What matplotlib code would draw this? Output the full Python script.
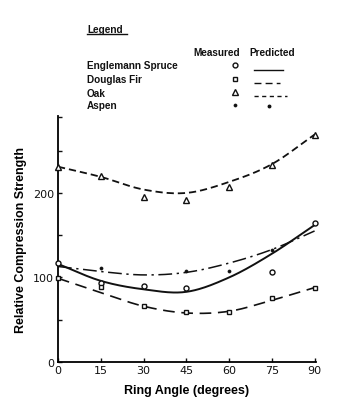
import numpy as np
import matplotlib
matplotlib.use('Agg')
import matplotlib.pyplot as plt
from matplotlib.lines import Line2D

# ---- data ----
angles = [0, 15, 30, 45, 60, 75, 90]

spruce_measured = [117, 93, 90, 88, np.nan, 107, 164]
fir_measured = [99, 89, 66, 59, 59, 76, 88]
oak_measured = [231, 220, 195, 192, 207, 233, 269]
aspen_measured = [np.nan, 111, np.nan, 108, 108, 133, np.nan]

spruce_predicted = [116, 96, 86, 83, 100, 128, 162]
fir_predicted = [99, 82, 66, 58, 60, 73, 88]
oak_predicted = [231, 219, 204, 200, 213, 234, 269]
aspen_predicted = [113, 107, 103, 106, 117, 133, 155]

x_ticks = [0, 15, 30, 45, 60, 75, 90]
y_ticks = [0, 50, 100, 150, 200, 250, 290]
y_ticklabels = ['0', '', '100', '', '200', '', '']

species = ['Englemann Spruce', 'Douglas Fir', 'Oak', 'Aspen']


def smooth(xs, ys, n=30):
    """Catmull-Rom curve through the read points (for drawing only)."""
    xs = np.asarray(xs, float)
    ys = np.asarray(ys, float)
    px = np.concatenate([[2 * xs[0] - xs[1]], xs, [2 * xs[-1] - xs[-2]]])
    py = np.concatenate([[2 * ys[0] - ys[1]], ys, [2 * ys[-1] - ys[-2]]])
    ox, oy = [], []
    t = np.linspace(0, 1, n, endpoint=False)
    for i in range(1, len(px) - 2):
        for arr, out in ((px, ox), (py, oy)):
            p0, p1, p2, p3 = arr[i - 1], arr[i], arr[i + 1], arr[i + 2]
            out.extend(0.5 * ((2 * p1) + (-p0 + p2) * t
                              + (2 * p0 - 5 * p1 + 4 * p2 - p3) * t ** 2
                              + (-p0 + 3 * p1 - 3 * p2 + p3) * t ** 3))
    ox.append(xs[-1]); oy.append(ys[-1])
    return np.array(ox), np.array(oy)


W, H = 351, 414
fig = plt.figure(figsize=(W / 100, H / 100), dpi=100)
fig.patch.set_facecolor('white')

def fx(px):
    return px / W

def fy(py):
    return 1 - py / H

ax = fig.add_axes([fx(58), fy(363), fx(316) - fx(58), fy(117) - fy(363)])
ax.set_xlim(0, 90.5)
ax.set_ylim(0, 291)
for s in ('top', 'right'):
    ax.spines[s].set_visible(False)
for s in ('left', 'bottom'):
    ax.spines[s].set_linewidth(1.3)
    ax.spines[s].set_color('black')

ink = '#111111'
styles = {
    'spruce': dict(ls='-', lw=1.4),
    'fir': dict(ls=(0, (7, 4)), lw=1.2),
    'oak': dict(ls=(0, (4, 2.2)), lw=1.3),
    'aspen': dict(ls=(0, (9, 3, 1.5, 3)), lw=1.1),
}

for key, pred in (('spruce', spruce_predicted), ('fir', fir_predicted),
                  ('oak', oak_predicted), ('aspen', aspen_predicted)):
    sx, sy = smooth(angles, pred)
    ax.plot(sx, sy, color=ink, clip_on=False, **styles[key])

mk = dict(color=ink, ls='none', clip_on=False, zorder=5)
ax.plot(angles, spruce_measured, marker='o', ms=3.6, mfc='white', mew=1.0, **mk)
ax.plot(angles, fir_measured, marker='s', ms=3.2, mfc='white', mew=1.0, **mk)
ax.plot(angles, oak_measured, marker='^', ms=4.0, mfc='white', mew=1.0, **mk)
ax.plot(angles, aspen_measured, marker='o', ms=2.2, mfc=ink, mew=0.5, **mk)

ax.set_xticks(x_ticks)
ax.set_xticklabels([str(v) for v in x_ticks])
ax.set_yticks(y_ticks)
ax.set_yticklabels(y_ticklabels)
ax.tick_params(axis='both', direction='in', length=3, width=1.0, colors=ink,
               labelsize=8, pad=2)
ax.tick_params(axis='y', pad=3)

ax.set_xlabel('Ring Angle (degrees)', fontsize=9, fontweight='bold',
              family='Liberation Sans', labelpad=7)
ax.set_ylabel('Relative Compression Strength', fontsize=9, fontweight='bold',
              family='Liberation Sans', labelpad=4)

# ---- hand-drawn style legend above the plot ----
lf = dict(fontsize=7.2, fontweight='bold', family='Liberation Sans',
          color=ink, va='center')
fig.text(fx(87), fy(30), 'Legend', ha='left', **lf)
fig.add_artist(Line2D([fx(87), fx(127)], [fy(35), fy(35)], color=ink, lw=1.0))
fig.text(fx(193), fy(53), 'Measured', ha='left', **lf)
fig.text(fx(249), fy(53), 'Predicted', ha='left', **lf)

rows_y = [66, 80, 94, 106]
for name, ry in zip(species, rows_y):
    fig.text(fx(87), fy(ry), name, ha='left', **lf)

mx = fx(235)
fig.add_artist(Line2D([mx], [fy(66)], marker='o', ms=3.5, mfc='white', mec=ink, mew=1.0))
fig.add_artist(Line2D([mx], [fy(80)], marker='s', ms=3.5, mfc='white', mec=ink, mew=1.0))
fig.add_artist(Line2D([mx], [fy(93)], marker='^', ms=4.0, mfc='white', mec=ink, mew=1.0))
fig.add_artist(Line2D([mx], [fy(106)], marker='o', ms=2.2, mfc=ink, mec=ink, mew=0.5))

fig.add_artist(Line2D([fx(254), fx(283)], [fy(71), fy(71)], color=ink, lw=1.0, ls='-'))
fig.add_artist(Line2D([fx(254), fx(280)], [fy(84), fy(84)], color=ink, lw=1.0, ls=(0, (5, 3))))
fig.add_artist(Line2D([fx(254), fx(287)], [fy(97), fy(97)], color=ink, lw=1.0, ls=(0, (3, 2.5))))
fig.add_artist(Line2D([fx(269)], [fy(107)], marker='o', ms=1.8, mfc=ink, mec=ink))

fig.savefig('out.png', dpi=100, facecolor='white')
